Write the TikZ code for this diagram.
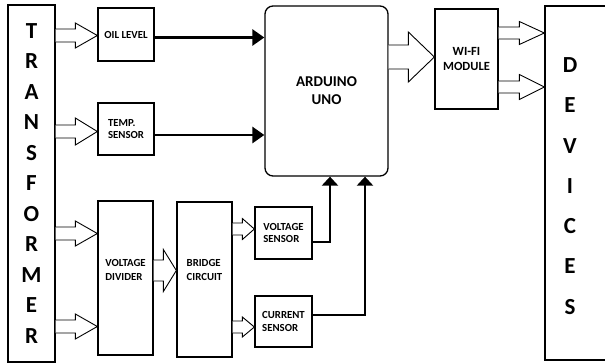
\documentclass[tikz,border=0pt]{standalone}
\usepackage{fontspec}
\setmainfont{Carlito}
\usetikzlibrary{arrows.meta,calc}
% hollow (outline) arrow from node #1 (east) to node #2 (west) at image-y #3
% #4 shaft half-height, #5 head half-height, #6 head length
\newcommand\hollowarr[6]{%
  \draw[hollow] let \p1=(#1.east |- 0,#3), \p2=(#2.west |- 0,#3) in
    (\x1,\y1+#4) -- (\x2-#6,\y1+#4) -- (\x2-#6,\y1+#5) -- (\x2,\y2)
    -- (\x2-#6,\y1-#5) -- (\x2-#6,\y1-#4) -- (\x1,\y1-#4);}
\begin{document}
\begin{tikzpicture}[x=1pt,y=-1pt,
  box/.style={draw,line width=1.3pt,inner sep=0pt,
    font=\fontsize{10.8}{12.8}\selectfont\bfseries,align=left},
  lbl/.style={font=\fontsize{10.8}{14}\selectfont\bfseries,align=left,inner sep=0pt},
  big/.style={font=\fontsize{23}{30.5}\selectfont\bfseries,align=center},
  hollow/.style={draw,line width=0.9pt,fill=white,line join=miter},
  thickline/.style={line width=2.8pt},
  sidetip/.style={-{Triangle[length=12pt,width=16pt]}},
  uptip/.style={-{Triangle[length=9pt,width=16pt]}}]
\path[use as bounding box,clip] (0,0) rectangle (605,364);

% boxes
\node[box,big,minimum width=47pt,minimum height=357pt] (trans) at (31.5,183.5)
  {T\\R\\A\\N\\S\\F\\O\\R\\M\\E\\R};
\node[box,minimum width=56pt,minimum height=53pt] (oil) at (126,34.5) {OIL LEVEL};
\node[box,minimum width=56pt,minimum height=52pt] (temp) at (126,129) {TEMP.\\SENSOR};
\node[box,minimum width=55pt,minimum height=154pt,
  label={[lbl,yshift=8pt]center:{VOLTAGE\\DIVIDER}}] (vd) at (125.5,278) {};
\node[box,minimum width=55pt,minimum height=155pt,
  label={[lbl,yshift=10pt]center:{BRIDGE\\CIRCUIT}}] (bridge) at (204.5,279.5) {};
\node[box,minimum width=57pt,minimum height=52pt] (vs) at (283.5,233) {VOLTAGE\\SENSOR};
\node[box,minimum width=57pt,minimum height=51pt] (cs) at (283.5,321.5) {CURRENT\\SENSOR};
\node[box,rounded corners=8pt,minimum width=123pt,minimum height=170pt,align=center,
  font=\fontsize{15}{18}\selectfont\bfseries] (ard) at (326.5,91) {ARDUINO\\UNO};
\node[box,minimum width=63pt,minimum height=100pt,align=center,
  font=\fontsize{12.5}{14.5}\selectfont\bfseries] (wifi) at (466.5,59) {WI-FI\\MODULE};
\node[box,minimum width=105pt,minimum height=354pt] (dev) at (597.5,183) {};
\node[big,font=\fontsize{23}{40.3}\selectfont\bfseries] (devtext) at (570,186)
  {D\\E\\V\\I\\C\\E\\S};

% hollow arrows
\hollowarr{trans}{oil}{35.5}{6.5}{12.5}{22}
\hollowarr{trans}{temp}{131.5}{6.5}{13.5}{22}
\hollowarr{trans}{vd}{233.5}{6.5}{12.5}{22}
\hollowarr{trans}{vd}{326.5}{6.5}{12.5}{22}
\hollowarr{vd}{bridge}{270.5}{10.5}{21}{13}
\hollowarr{bridge}{vs}{229}{6}{10.5}{12}
\hollowarr{bridge}{cs}{327}{6}{10}{12}
\hollowarr{ard}{wifi}{57}{12}{25}{26}
\hollowarr{wifi}{dev}{33}{6}{11.5}{25}
\hollowarr{wifi}{dev}{87}{6}{12.5}{25}

% thick connectors
\draw[thickline,sidetip] (oil.east |- 0,37.5) -- (ard.west |- 0,37.5);
\draw[thickline,sidetip] (temp.east |- 0,135) -- (ard.west |- 0,135);
\draw[thickline,uptip] (vs.east |- 0,242) -| (ard.south -| 330,0);
\draw[thickline,uptip] (cs.east |- 0,315) -| (ard.south -| 365,0);
\end{tikzpicture}
\end{document}
